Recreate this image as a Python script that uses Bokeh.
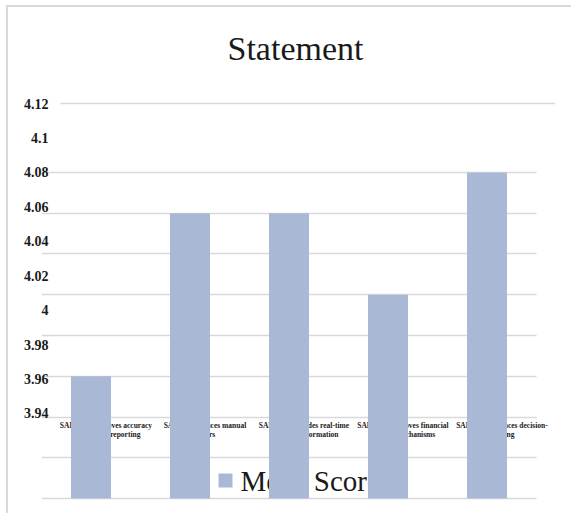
import numpy as np
from bokeh.plotting import figure
from bokeh.models import Range1d, LinearAxis, Grid, FixedTicker
from bokeh.core.properties import value
from bokeh.embed import file_html
from bokeh.resources import INLINE

# ---- data ----
title_text = "Statement"
series_name = "Mean Score"
categories = [
    "SAP ERP improves accuracy\nin financial reporting",
    "SAP ERP reduces manual\nerrors",
    "SAP ERP provides real-time\nfinancial information",
    "SAP ERP improves financial\ncontrol mechanisms",
    "SAP ERP enhances decision-\nmaking",
]
mean_scores = [3.98, 4.06, 4.06, 4.02, 4.08]
grid_values = [3.92, 3.94, 3.96, 3.98, 4.00, 4.02, 4.04, 4.06, 4.08]
ytick_values = [3.94, 3.96, 3.98, 4.0, 4.02, 4.04, 4.06, 4.08, 4.1, 4.12]
ytick_labels = ["3.94", "3.96", "3.98", "4", "4.02", "4.04", "4.06", "4.08", "4.1", "4.12"]
top_line_value = [4.12]

BAR_COLOR = "#a9b8d5"
GRID_COLOR = "#d9d9d9"
SERIF = "Liberation Serif"

x_pos = np.arange(len(categories)) + 0.5

p = figure(width=565, height=508, output_backend="svg", toolbar_location=None,
           x_range=Range1d(0, 514 / 99), y_range=Range1d(3.91804, 4.12515),
           x_axis_location=None, y_axis_location=None,
           min_border_left=33, min_border_right=18, min_border_top=73, min_border_bottom=13,
           title=title_text)
p.extra_y_ranges = {"lbl": Range1d(3.88832, 4.13336)}
p.outline_line_color = None
p.background_fill_color = "white"
p.border_fill_color = "white"
p.margin = (5, 0, 0, 6)
p.styles = {"border-left": "2px solid #d9d9d9", "border-top": "2px solid #d9d9d9"}

for r in list(p.center):
    if isinstance(r, Grid):
        r.visible = False

has_cross = "cross_bounds" in Grid.properties()

g_main = Grid(dimension=1, ticker=FixedTicker(ticks=grid_values),
              grid_line_color=GRID_COLOR, grid_line_width=1.5)
g_top = Grid(dimension=1, y_range_name="lbl", ticker=FixedTicker(ticks=top_line_value),
             grid_line_color=GRID_COLOR, grid_line_width=1.5)
if has_cross:
    g_main.cross_bounds = (0, 5)
    g_top.cross_bounds = (0.192, 514 / 99)
p.add_layout(g_main, "center")
p.add_layout(g_top, "center")

ax = LinearAxis(y_range_name="lbl", ticker=FixedTicker(ticks=ytick_values),
                major_label_overrides=dict(zip(ytick_values, ytick_labels)),
                axis_line_color=None, major_tick_line_color=None, minor_tick_line_color=None,
                major_tick_out=0, major_tick_in=0, major_label_standoff=-7,
                major_label_text_font=SERIF, major_label_text_font_style="bold",
                major_label_text_font_size="14px", major_label_text_color="#1a1a1a")
p.add_layout(ax, "left")

# category labels (drawn beneath the bars, as in the reference)
p.text(x=x_pos + 0.155, y=[3.9355] * len(categories), text=categories, y_range_name="lbl",
       text_font=value(SERIF), text_font_style="bold", text_font_size="7.5px",
       text_align="center", text_baseline="top", text_color="#1a1a1a", text_line_height=1.0)

# legend key (also beneath the bars)
p.scatter(x=[1.8586], y=[3.92883], marker="square", size=14,
          fill_color=BAR_COLOR, line_color=None)
p.text(x=[2.0101], y=[3.92883], text=[series_name], text_font=value(SERIF),
       text_font_size="29px", text_align="left", text_baseline="middle",
       text_color="#1a1a1a")

p.vbar(x=x_pos, top=mean_scores, bottom=grid_values[0], width=40 / 99,
       fill_color=BAR_COLOR, line_color=None)

p.title.text_font = SERIF
p.title.text_font_size = "34px"
p.title.text_font_style = "normal"
p.title.text_color = "#1a1a1a"
p.title.align = "left"
p.title.offset = 186
p.title.standoff = 27

open("out.html", "w").write(file_html(p, INLINE))
